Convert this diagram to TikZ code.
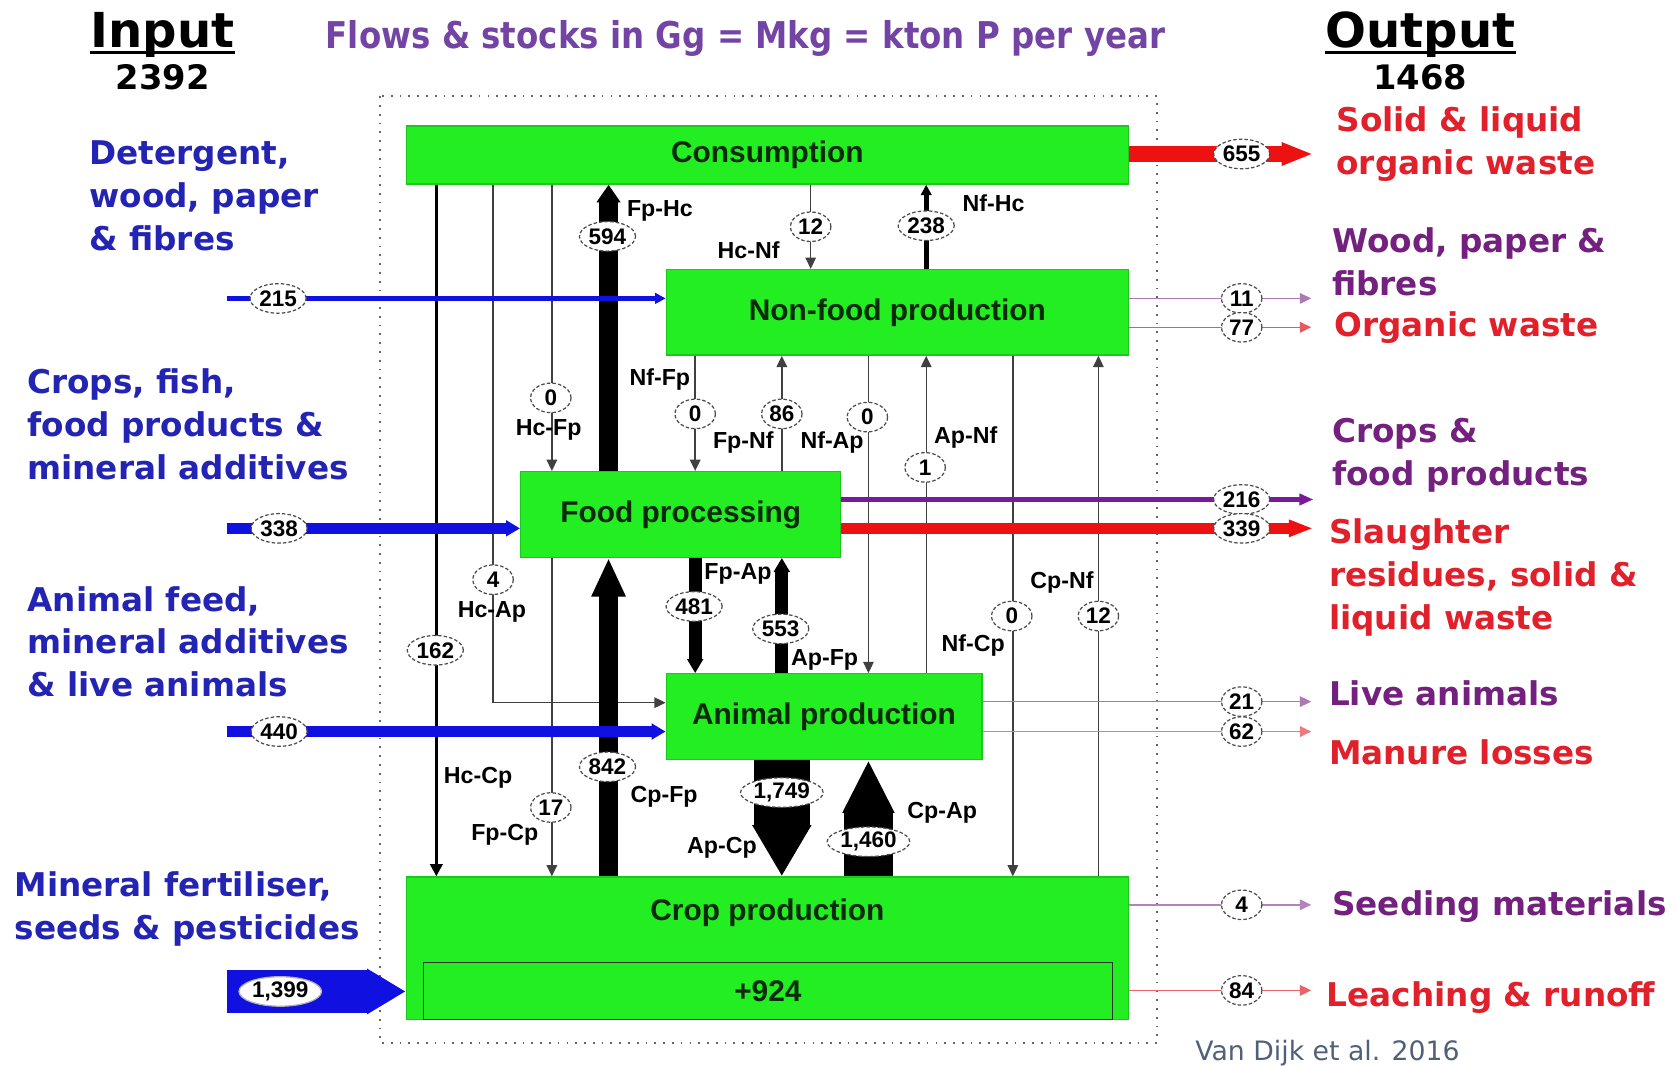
\documentclass[tikz,border=0pt]{standalone}
\usepackage{fontspec}
\setmainfont{Liberation Sans}
\newfontfamily\dejavu{DejaVu Sans}
\newfontfamily\dejavunarrow[FakeStretch=0.88]{DejaVu Sans}
\usetikzlibrary{shapes.geometric,arrows.meta}
\definecolor{boxGreen}{HTML}{22EE22}
\definecolor{boxEdge}{HTML}{1CC81C}
\definecolor{boxText}{HTML}{0A2A0A}
\definecolor{inBlue}{HTML}{2424B4}
\definecolor{flowBlue}{HTML}{1010E0}
\definecolor{outRed}{HTML}{E0202A}
\definecolor{flowRed}{HTML}{EE1111}
\definecolor{outPurple}{HTML}{74207F}
\definecolor{flowPurple}{HTML}{7A1A9A}
\definecolor{titlePurple}{HTML}{7444A4}
\definecolor{citeGray}{HTML}{50607A}

\tikzset{
  box/.style={fill=boxGreen, draw=boxEdge, line width=0.4pt, inner sep=0pt,
    text=boxText, font=\fontsize{8.5}{10}\selectfont\bfseries},
  boxtext/.style={inner sep=0pt, text=boxText, font=\fontsize{8.5}{10}\selectfont\bfseries},
  stock/.style={draw=black!80, line width=0.4pt, inner sep=0pt, text=boxText,
    font=\fontsize{8.5}{10}\selectfont\bfseries},
  val/.style={ellipse, draw=black!70, dash pattern=on 1pt off 0.6pt, line width=0.35pt,
    fill=white, inner xsep=0.3pt, inner ysep=0pt, minimum width=11.5pt, minimum height=8.4pt,
    font=\fontsize{6.4}{7}\selectfont\bfseries},
  tag/.style={inner sep=0pt, font=\fontsize{6.6}{8}\selectfont\bfseries},
  thinflow/.style={draw=black!75, line width=0.4pt, -{Triangle[length=3.2pt,width=3pt]}},
  inflow/.style={draw=flowBlue, -{Triangle[length=4pt,width=4.4pt]}},
  inlbl/.style={anchor=west, align=left, inner sep=0pt, text=inBlue,
    font=\dejavu\bfseries\fontsize{9.3}{12.2}\selectfont},
  outlbl/.style={anchor=west, align=left, inner sep=0pt,
    font=\dejavu\bfseries\fontsize{9.3}{12.2}\selectfont},
  heading/.style={anchor=base, inner sep=0pt, font=\dejavu\bfseries\fontsize{13.7}{16}\selectfont},
}

\begin{document}
\begin{tikzpicture}[x=0.010695cm, y=-0.010695cm]
  \useasboundingbox (0,0) rectangle (1568,996);

  % headings
  \node[heading] (hIn) at (152,44) {Input};
  \draw[line width=1pt] ([yshift=-1.6pt]hIn.base west) -- ([yshift=-1.6pt]hIn.base east);
  \node[font=\dejavu\bfseries\fontsize{9.6}{11}\selectfont] (hInSum) at (152,72) {2392};
  \node[heading] (hOut) at (1328,44) {Output};
  \draw[line width=1pt] ([yshift=-1.6pt]hOut.base west) -- ([yshift=-1.6pt]hOut.base east);
  \node[font=\dejavu\bfseries\fontsize{9.6}{11}\selectfont] (hOutSum) at (1328,72) {1468};
  \node[text=titlePurple, font=\dejavunarrow\bfseries\fontsize{10.5}{12}\selectfont] (title) at (697,36)
    {Flows \& stocks in Gg = Mkg = kton P per year};

  \draw[black!60, dotted, line width=0.5pt] (355,90) rectangle (1082,975);

  % compartments
  \node[box, minimum width=7.22cm, minimum height=0.578cm] (cons) at (717.5,145) {Consumption};
  \node[box, minimum width=4.62cm, minimum height=0.856cm] (nonfood) at (839,292) {Non-food production};
  \node[box, minimum width=3.20cm, minimum height=0.856cm] (foodp) at (636.5,481) {Food processing};
  \node[box, minimum width=3.155cm, minimum height=0.856cm] (anim) at (770.5,670) {Animal production};
  \node[box, minimum width=7.22cm, minimum height=1.422cm] (crop) at (717.5,886.5) {};
  \node[boxtext] (cropLbl) at (717.5,853) {Crop production};
  \node[stock, minimum width=6.89cm, minimum height=0.567cm] (stock) at (718,926.5) {+924};

  % columns of the internal flows
  \coordinate (kHcCp) at (408,0);
  \coordinate (kHcAp) at (461,0);
  \coordinate (kHcApTurn) at (461,657);
  \coordinate (kHcFp) at (516,0);
  \coordinate (kFpHc) at (569,0);
  \coordinate (kNfFp) at (650,0);
  \coordinate (kFpNf) at (731,0);
  \coordinate (kHcNf) at (758,0);
  \coordinate (kNfAp) at (812,0);
  \coordinate (kNfHc) at (866,0);
  \coordinate (kNfCp) at (947,0);
  \coordinate (kCpNf) at (1027,0);

  % internal flows
  \draw[black, line width=0.9pt, -{Triangle[length=3.5pt,width=3.5pt]}] (kHcCp |- cons.south) -- (kHcCp |- crop.north);
  \draw[thinflow] (kHcAp |- cons.south) -- (kHcApTurn) -- (kHcApTurn -| anim.west);
  \draw[thinflow] (kHcFp |- cons.south) -- (kHcFp |- foodp.north);
  \draw[thinflow] (kHcFp |- foodp.south) -- (kHcFp |- crop.north);
  \draw[black, line width=5.5pt, -{Triangle[length=5pt,width=6.5pt]}] (kFpHc |- foodp.north) -- (kFpHc |- cons.south);
  \draw[black, line width=5.5pt, -{Triangle[length=11pt,width=9pt]}] (kFpHc |- crop.north) -- (kFpHc |- foodp.south);
  \draw[thinflow] (kNfFp |- nonfood.south) -- (kNfFp |- foodp.north);
  \draw[black, line width=3.6pt, -{Triangle[length=4pt,width=4.4pt]}] (kNfFp |- foodp.south) -- (kNfFp |- anim.north);
  \draw[thinflow] (kFpNf |- foodp.north) -- (kFpNf |- nonfood.south);
  \draw[black, line width=3.6pt, -{Triangle[length=4pt,width=4.4pt]}] (kFpNf |- anim.north) -- (kFpNf |- foodp.south);
  \draw[black, line width=15.8pt, -{Triangle[length=14.6pt,width=15.8pt]}] (kFpNf |- anim.south) -- (kFpNf |- crop.north);
  \draw[black, line width=13.7pt, -{Triangle[length=15pt,width=13.7pt]}] (kNfAp |- crop.north) -- (kNfAp |- anim.south);
  \draw[thinflow] (kHcNf |- cons.south) -- (kHcNf |- nonfood.north);
  \draw[black, line width=1.5pt, -{Triangle[length=3pt,width=3pt]}] (kNfHc |- nonfood.north) -- (kNfHc |- cons.south);
  \draw[thinflow] (kNfAp |- nonfood.south) -- (kNfAp |- anim.north);
  \draw[thinflow] (kNfHc |- anim.north) -- (kNfHc |- nonfood.south);
  \draw[thinflow] (kNfCp |- nonfood.south) -- (kNfCp |- crop.north);
  \draw[thinflow] (kCpNf |- crop.north) -- (kCpNf |- nonfood.south);

  % inputs
  \coordinate (src215) at (212,279);
  \coordinate (src338) at (212,494);
  \coordinate (src440) at (212,684);
  \coordinate (src1399) at (212,927);
  \draw[inflow, line width=1.2pt, -{Triangle[length=3pt,width=3pt]}] (src215) -- (src215 -| nonfood.west);
  \draw[inflow, line width=3pt] (src338) -- (src338 -| foodp.west);
  \draw[inflow, line width=3pt] (src440) -- (src440 -| anim.west);
  \draw[draw=flowBlue, line width=12.2pt, -{Triangle[length=11pt,width=12.2pt]}] (src1399) -- (src1399 -| crop.west);

  % outputs
  \coordinate (snk655) at (1228,144);
  \coordinate (snk11) at (1226,279);
  \coordinate (snk77) at (1226,306);
  \coordinate (snk216) at (1228,467);
  \coordinate (snk339) at (1228,494);
  \coordinate (snk21) at (1226,656);
  \coordinate (snk62) at (1226,684);
  \coordinate (snk4) at (1226,846);
  \coordinate (snk84) at (1226,926);
  \draw[flowRed, line width=4.6pt, -{Triangle[length=9pt,width=6pt]}] (snk655 -| cons.east) -- (snk655);
  \draw[outPurple!60, line width=0.4pt, -{Triangle[length=3.2pt,width=3pt]}] (snk11 -| nonfood.east) -- (snk11);
  \draw[outRed!75, line width=0.4pt, -{Triangle[length=3.2pt,width=3pt]}] (snk77 -| nonfood.east) -- (snk77);
  \draw[flowPurple, line width=1.5pt, -{Triangle[length=4pt,width=3.2pt]}] (snk216 -| foodp.east) -- (snk216);
  \draw[flowRed, line width=3pt, -{Triangle[length=7pt,width=4.5pt]}] (snk339 -| foodp.east) -- (snk339);
  \draw[outPurple!60, line width=0.4pt, -{Triangle[length=3.2pt,width=3pt]}] (snk21 -| anim.east) -- (snk21);
  \draw[outRed!60, line width=0.4pt, -{Triangle[length=3.2pt,width=3pt]}] (snk62 -| anim.east) -- (snk62);
  \draw[outPurple!55, line width=0.4pt, -{Triangle[length=3.2pt,width=3pt]}] (snk4 -| crop.east) -- (snk4);
  \draw[outRed!70, line width=0.4pt, -{Triangle[length=3.2pt,width=3pt]}] (snk84 -| crop.east) -- (snk84);

  % flow values
  \node[val] (v594) at (568,221) {594};
  \node[val] (v12a) at (758,212) {12};
  \node[val] (v238) at (866,211) {238};
  \node[val] (v0a) at (515,372) {0};
  \node[val] (v0b) at (650,387) {0};
  \node[val] (v86) at (731,387) {86};
  \node[val] (v0c) at (811,390) {0};
  \node[val] (v1) at (865,437) {1};
  \node[val] (v4a) at (461,542) {4};
  \node[val] (v481) at (649,567) {481};
  \node[val] (v553) at (730,588) {553};
  \node[val] (v162) at (407,608) {162};
  \node[val] (v0d) at (946,576) {0};
  \node[val] (v12b) at (1027,576) {12};
  \node[val] (v842) at (568,717) {842};
  \node[val] (v1749) at (731,741) {1,749};
  \node[val] (v17) at (515,755) {17};
  \node[val] (v1460) at (812,787) {1,460};
  \node[val] (v215) at (260,279) {215};
  \node[val] (v338) at (261,494) {338};
  \node[val] (v440) at (261,684) {440};
  \node[val, draw=black!30, solid] (v1399) at (262,927) {1,399};
  \node[val] (v655) at (1161,144) {655};
  \node[val] (v11) at (1161,279) {11};
  \node[val] (v77) at (1161,306) {77};
  \node[val] (v216) at (1161,467) {216};
  \node[val] (v339) at (1161,494) {339};
  \node[val] (v21) at (1161,656) {21};
  \node[val] (v62) at (1161,684) {62};
  \node[val] (v4b) at (1161,846) {4};
  \node[val] (v84) at (1161,926) {84};

  % flow codes
  \node[tag] (tFpHc) at (617,197) {Fp-Hc};
  \node[tag] (tHcNf) at (700,234) {Hc-Nf};
  \node[tag] (tNfHc) at (929,190) {Nf-Hc};
  \node[tag] (tNfFp) at (617,355) {Nf-Fp};
  \node[tag] (tHcFp) at (513,402) {Hc-Fp};
  \node[tag] (tFpNf) at (695,414) {Fp-Nf};
  \node[tag] (tNfAp) at (778,414) {Nf-Ap};
  \node[tag] (tApNf) at (903,409) {Ap-Nf};
  \node[tag] (tHcAp) at (460,572) {Hc-Ap};
  \node[tag] (tFpAp) at (690,537) {Fp-Ap};
  \node[tag] (tApFp) at (771,617) {Ap-Fp};
  \node[tag] (tCpNf) at (993,545) {Cp-Nf};
  \node[tag] (tNfCp) at (910,604) {Nf-Cp};
  \node[tag] (tHcCp) at (447,727) {Hc-Cp};
  \node[tag] (tCpFp) at (621,745) {Cp-Fp};
  \node[tag] (tFpCp) at (472,781) {Fp-Cp};
  \node[tag] (tApCp) at (675,793) {Ap-Cp};
  \node[tag] (tCpAp) at (881,760) {Cp-Ap};

  % input labels
  \node[inlbl] (lDet) at (83,183) {Detergent,\\wood, paper\\\& fibres};
  \node[inlbl] (lCrops) at (25,397) {Crops, fish,\\food products \&\\mineral additives};
  \node[inlbl] (lFeed) at (25,600) {Animal feed,\\mineral additives\\\& live animals};
  \node[inlbl] (lFert) at (13,850) {Mineral fertiliser,\\seeds \& pesticides};

  % output labels
  \node[outlbl, text=outRed] (oSolid) at (1249,135) {Solid \& liquid\\organic waste};
  \node[outlbl, text=outPurple] (oWood) at (1245,245) {Wood, paper \&\\fibres};
  \node[outlbl, text=outRed] (oOrg) at (1247,306) {Organic waste};
  \node[outlbl, text=outPurple] (oCrops) at (1245,426) {Crops \&\\food products};
  \node[outlbl, text=outRed] (oSlaught) at (1242,540) {Slaughter\\residues, solid \&\\liquid waste};
  \node[outlbl, text=outPurple] (oLive) at (1242,648) {Live animals};
  \node[outlbl, text=outRed] (oManure) at (1242,703) {Manure losses};
  \node[outlbl, text=outPurple] (oSeed) at (1245,848) {Seeding materials};
  \node[outlbl, text=outRed] (oLeach) at (1240,933) {Leaching \& runoff};
  \node[anchor=west, inner sep=0pt, text=citeGray, font=\dejavu\fontsize{7.6}{9}\selectfont] (cite) at (1117,985) {Van Dijk et al. 2016};
\end{tikzpicture}
\end{document}
